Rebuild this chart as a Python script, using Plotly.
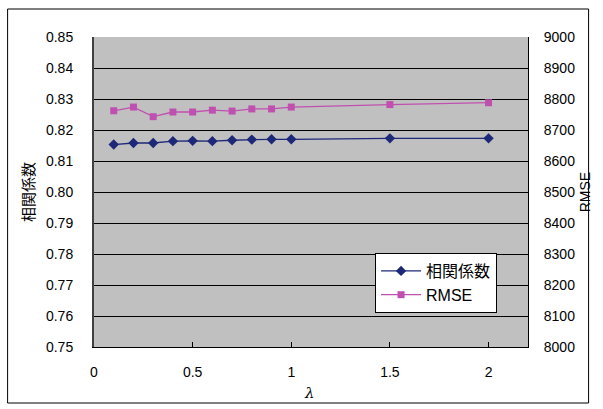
import plotly.graph_objects as go

lam = [0.1, 0.2, 0.3, 0.4, 0.5, 0.6, 0.7, 0.8, 0.9, 1.0, 1.5, 2.0]
corr = [0.8153, 0.8158, 0.8158, 0.8164, 0.8165, 0.8164, 0.8167, 0.8169, 0.8170, 0.8170, 0.8173, 0.8173]
rmse = [8762, 8774, 8743, 8758, 8758, 8764, 8761, 8768, 8768, 8774, 8782, 8788]

corr_name = "相関係数"
rmse_name = "RMSE"
x_title = "λ"

FONT = "Liberation Sans, Noto Sans CJK JP, sans-serif"
NAVY = "#1E2878"
PINK = "#C050B0"

fig = go.Figure()
fig.add_trace(go.Scatter(x=lam, y=corr, name=corr_name, mode="lines+markers",
                         line=dict(color=NAVY, width=1.3),
                         marker=dict(symbol="diamond", size=8, color=NAVY)))
fig.add_trace(go.Scatter(x=lam, y=rmse, name=rmse_name, mode="lines+markers", yaxis="y2",
                         line=dict(color=PINK, width=1.3),
                         marker=dict(symbol="square", size=7, color=PINK)))

# plot area in pixels: x 94..531, y 37..347
L, R, T, B = 94, 531, 37, 347
W, H = 603, 409
def px(x):
    return (x - L) / (R - L)
def py(y):
    return (B - y) / (B - T)

fig.update_layout(
    width=W, height=H,
    margin=dict(l=L, r=W - R, t=T, b=H - B),
    paper_bgcolor="white",
    plot_bgcolor="#C0C0C0",
    font=dict(family=FONT, size=14, color="black"),
    showlegend=True,
    legend=dict(x=px(377), y=py(253), xanchor="left", yanchor="top",
                bgcolor="white", bordercolor="black", borderwidth=1,
                font=dict(size=16, family=FONT), tracegroupgap=0,
                itemwidth=40),
    xaxis=dict(range=[0, 2.2], tickvals=[0, 0.5, 1, 1.5, 2], ticktext=["0", "0.5", "1", "1.5", "2"],
               showgrid=False, zeroline=False, showline=True, linecolor="black", linewidth=1,
               ticks="inside", ticklen=5, tickcolor="black", ticklabelstandoff=12),
    yaxis=dict(range=[0.75, 0.85], dtick=0.01, tickformat=".2f",
               showgrid=True, gridcolor="black", gridwidth=1, zeroline=False,
               showline=True, linecolor="#404040", linewidth=2,
               ticks="inside", ticklen=5, tickcolor="black", ticklabelstandoff=16,
               title=dict(text=corr_name, font=dict(size=15), standoff=8)),
    yaxis2=dict(range=[8000, 9000], dtick=100, overlaying="y", side="right",
                showgrid=False, zeroline=False, showline=True, linecolor="black", linewidth=1,
                ticks="inside", ticklen=5, tickcolor="black", ticklabelstandoff=12,
                title=dict(text=rmse_name, font=dict(size=14), standoff=6)),
    annotations=[dict(text="<i>" + x_title + "</i>", xref="paper", yref="paper",
                      x=0.5 * (px(92) + px(530)), y=py(393), xanchor="center", yanchor="middle",
                      showarrow=False, font=dict(size=15, family="DejaVu Serif, serif"))],
    shapes=[dict(type="rect", xref="paper", yref="paper",
                 x0=px(7), x1=px(592), y0=py(403), y1=py(9),
                 line=dict(color="black", width=1), fillcolor="rgba(0,0,0,0)", layer="below")],
)

fig.write_html("out.html")
